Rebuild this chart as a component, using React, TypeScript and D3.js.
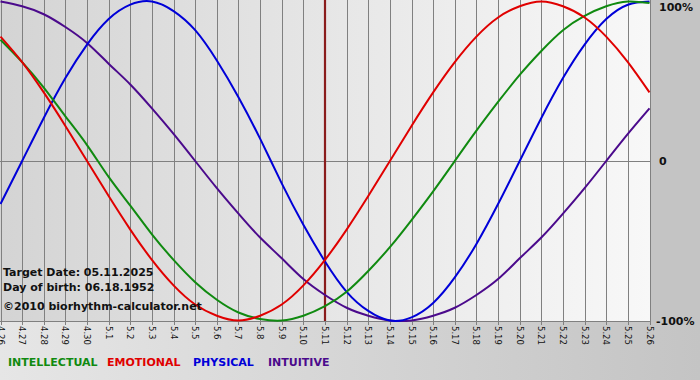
import React from "react";
import * as d3 from "d3";

const dayLabels = [
  "4.26", "4.27", "4.28", "4.29", "4.30", "5.1", "5.2", "5.3", "5.4", "5.5", "5.6",
  "5.7", "5.8", "5.9", "5.10", "5.11", "5.12", "5.13", "5.14", "5.15", "5.16",
  "5.17", "5.18", "5.19", "5.20", "5.21", "5.22", "5.23", "5.24", "5.25", "5.26",
];

const physical = [
  -0.27, 0, 0.27, 0.52, 0.73, 0.89, 0.98, 1.0, 0.94, 0.82, 0.63, 0.4, 0.14, -0.14,
  -0.4, -0.63, -0.82, -0.94, -1.0, -0.98, -0.89, -0.73, -0.52, -0.27, 0, 0.27, 0.52,
  0.73, 0.89, 0.98, 1.0,
];
const emotional = [
  0.78, 0.62, 0.43, 0.22, 0, -0.22, -0.43, -0.62, -0.78, -0.9, -0.97, -1.0, -0.97,
  -0.9, -0.78, -0.62, -0.43, -0.22, 0, 0.22, 0.43, 0.62, 0.78, 0.9, 0.97, 1.0, 0.97,
  0.9, 0.78, 0.62, 0.43,
];
const intellectual = [
  0.76, 0.62, 0.46, 0.28, 0.1, -0.1, -0.28, -0.46, -0.62, -0.76, -0.87, -0.95, -0.99,
  -1.0, -0.97, -0.91, -0.82, -0.69, -0.54, -0.37, -0.19, 0, 0.19, 0.37, 0.54, 0.69,
  0.82, 0.91, 0.97, 1.0, 0.99,
];
const intuitive = [
  1.0, 0.97, 0.92, 0.84, 0.74, 0.61, 0.48, 0.33, 0.17, 0, -0.17, -0.33, -0.48, -0.61,
  -0.74, -0.84, -0.92, -0.97, -1.0, -1.0, -0.97, -0.92, -0.84, -0.74, -0.61, -0.48,
  -0.33, -0.17, 0, 0.17, 0.33,
];

const seriesNames = ["INTELLECTUAL", "EMOTIONAL", "PHYSICAL", "INTUITIVE"];
const seriesColors = ["#108a10", "#e00000", "#0000d8", "#4b0a8c"];
const seriesData = [intellectual, emotional, physical, intuitive];
const drawOrder = [3, 2, 0, 1];
const legendX = [8, 107, 193, 268];

const yTickLabels = ["100%", "0", "-100%"];
const yTickValues = [1, 0, -1];
const targetIndex = 15;
const infoLines = ["Target Date: 05.11.2025", "Day of birth: 06.18.1952"];
const copyright = "\u00a92010 biorhythm-calculator.net";

export default function App() {
  const W = 700;
  const H = 380;
  const plotRight = 650;
  const plotBottom = 321;
  const x = d3.scaleLinear().domain([0, dayLabels.length - 1]).range([0.5, 649.5]);
  const y = d3.scaleLinear().domain([-1, 1]).range([320.5, 1.5]);
  const line = d3
    .line<number>()
    .x((_, i) => x(i))
    .y((v) => y(v))
    .curve(d3.curveNatural);
  const font = "'DejaVu Sans', Verdana, sans-serif";
  const rightLabelY = [11, 165, 325];

  return (
    <svg
      width={W}
      height={H}
      style={{ position: "absolute", left: 0, top: 0, display: "block" }}
    >
      <defs>
        <linearGradient id="plotBg" x1="0" x2="1" y1="0" y2="0">
          <stop offset="0%" stopColor="#d4d4d4" />
          <stop offset="100%" stopColor="#f8f8f8" />
        </linearGradient>
        <linearGradient id="outerBg" x1="0" x2="1" y1="0" y2="0">
          <stop offset="0%" stopColor="#e6e6e6" />
          <stop offset="100%" stopColor="#c4c4c4" />
        </linearGradient>
        <clipPath id="plotClip">
          <rect x={0} y={0} width={plotRight + 1} height={plotBottom + 1} />
        </clipPath>
      </defs>
      <rect x={0} y={0} width={W} height={H} fill="url(#outerBg)" />
      <rect x={plotRight} y={0} width={W - plotRight} height={plotBottom + 1} fill="#c4c4c4" />
      <rect x={0} y={0} width={plotRight} height={plotBottom} fill="url(#plotBg)" />

      {dayLabels.map((_, i) => (
        <line
          key={"g" + i}
          x1={Math.round(x(i)) + 0.5}
          x2={Math.round(x(i)) + 0.5}
          y1={0}
          y2={plotBottom + 4}
          stroke="#808080"
          strokeWidth={1}
        />
      ))}
      <line x1={0} x2={plotRight} y1={Math.round(y(0)) + 0.5} y2={Math.round(y(0)) + 0.5} stroke="#808080" />
      <line x1={0} x2={plotRight} y1={plotBottom + 0.5} y2={plotBottom + 0.5} stroke="#808080" />

      <line
        x1={x(targetIndex)}
        x2={x(targetIndex)}
        y1={0}
        y2={plotBottom}
        stroke="#8a1c1c"
        strokeWidth={2.2}
      />

      <g clipPath="url(#plotClip)">
        {drawOrder.map((si) => (
          <path
            key={"s" + si}
            d={line(seriesData[si]) || ""}
            fill="none"
            stroke={seriesColors[si]}
            strokeWidth={2}
          />
        ))}
      </g>

      {dayLabels.map((lab, i) => (
        <text
          key={"l" + i}
          transform={`translate(${x(i) - 3},326) rotate(90)`}
          fontFamily={font}
          fontSize={8.5}
          fill="#111"
        >
          {lab}
        </text>
      ))}

      {yTickLabels.map((lab, i) => (
        <text
          key={"y" + i}
          x={yTickValues[i] === -1 ? 656 : 659}
          y={rightLabelY[i]}
          fontFamily={font}
          fontWeight="bold"
          fontSize={11}
          fill="#111"
        >
          {lab}
        </text>
      ))}

      {infoLines.map((t, i) => (
        <text key={"i" + i} x={3} y={276 + i * 15} fontFamily={font} fontWeight="bold" fontSize={11} fill="#111">
          {t}
        </text>
      ))}
      <text x={3} y={310} fontFamily={font} fontWeight="bold" fontSize={11} fill="#111">
        {copyright}
      </text>

      {seriesNames.map((n, i) => (
        <text
          key={"n" + i}
          x={legendX[i]}
          y={366}
          fontFamily={font}
          fontWeight="bold"
          fontSize={11}
          fill={seriesColors[i]}
        >
          {n}
        </text>
      ))}
    </svg>
  );
}
